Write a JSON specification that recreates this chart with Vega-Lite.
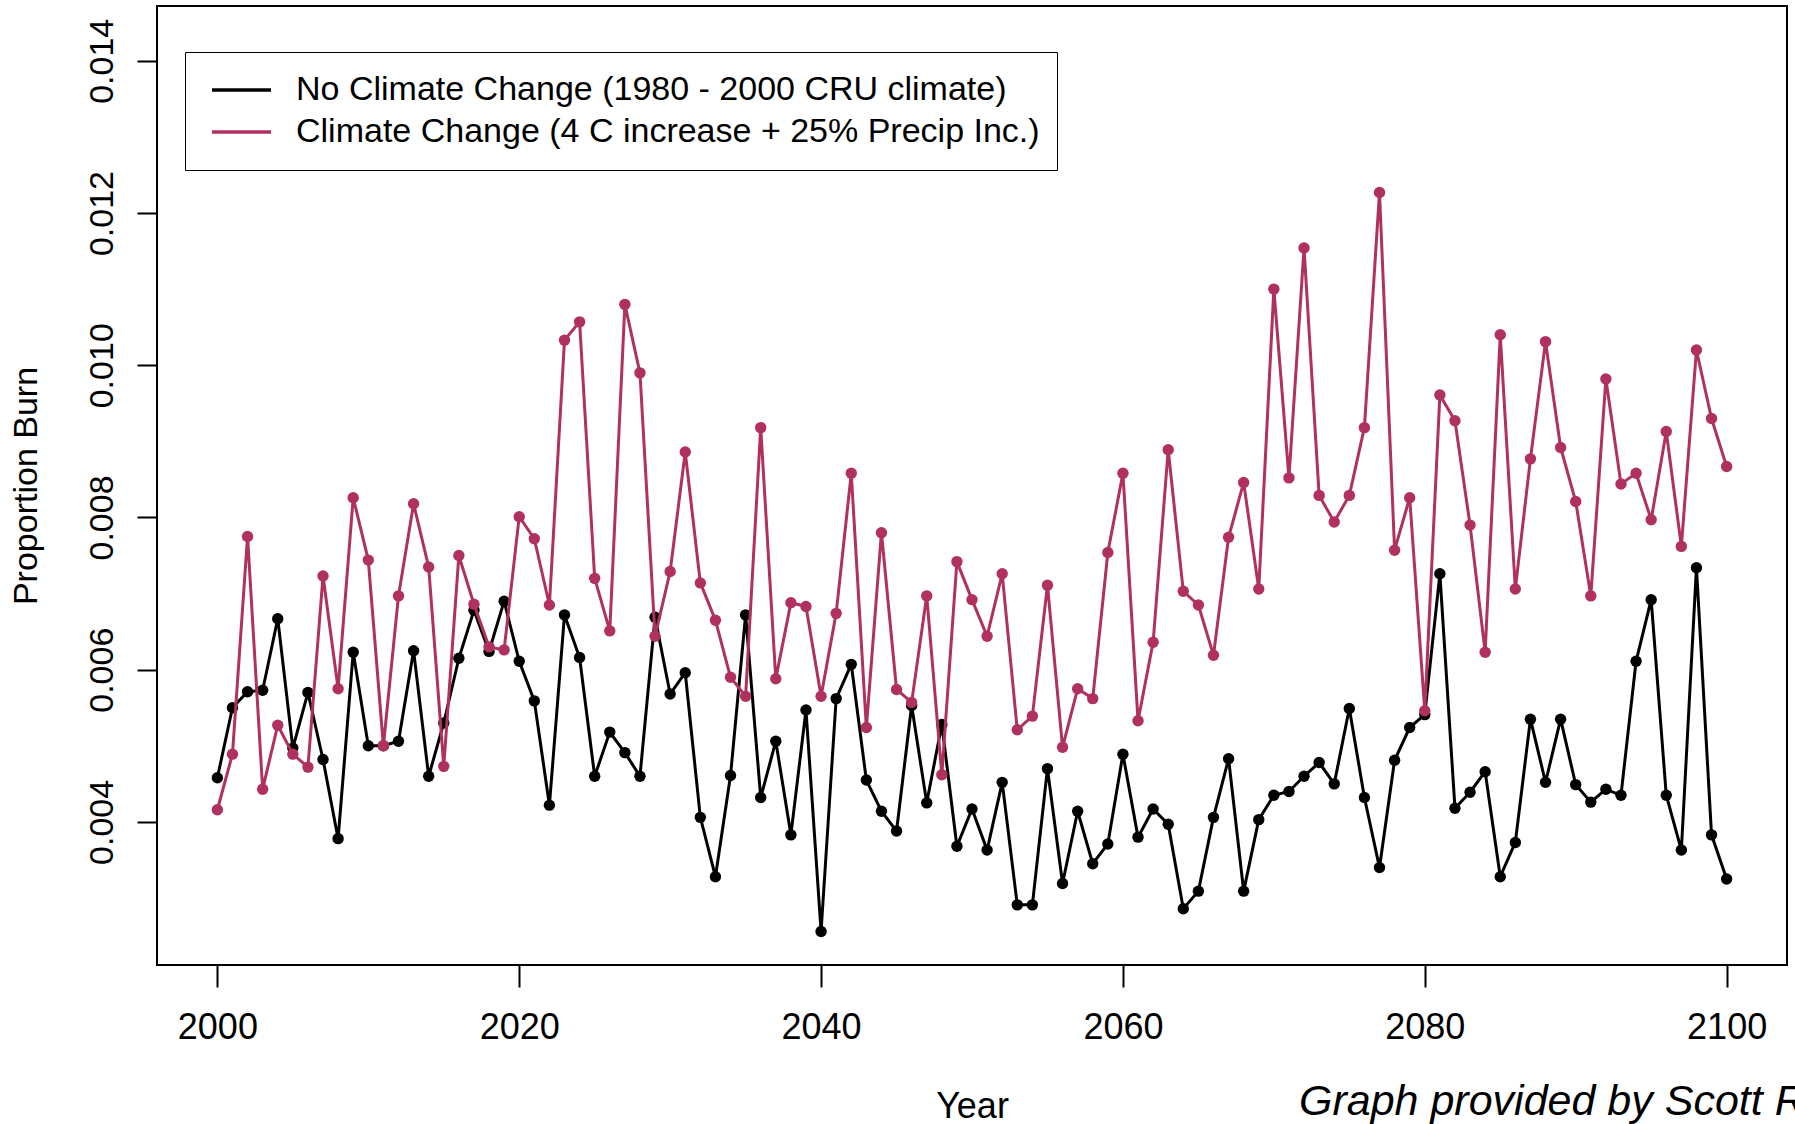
{
  "$schema": "https://vega.github.io/schema/vega-lite/v6.json",
  "width": 1630,
  "height": 959,
  "autosize": {"type": "none"},
  "padding": {"left": 157, "top": 6, "right": 8, "bottom": 159},
  "background": "white",
  "config": {
    "font": "Liberation Sans",
    "view": {"stroke": "black", "strokeWidth": 2},
    "axis": {"labelColor": "black", "titleColor": "black", "tickColor": "black", "labelFont": "Liberation Sans", "titleFont": "Liberation Sans"}
  },
  "title": {
    "text": "Graph provided by Scott Rupp",
    "orient": "bottom",
    "anchor": "start",
    "frame": "group",
    "dx": 1142,
    "offset": -43,
    "fontSize": 43,
    "fontStyle": "italic",
    "fontWeight": "normal",
    "color": "black",
    "font": "Liberation Sans"
  },
  "data": {
    "values": [
      {"year": 2000, "nocc": 0.00458, "cc": 0.00416},
      {"year": 2001, "nocc": 0.00550, "cc": 0.00489},
      {"year": 2002, "nocc": 0.00571, "cc": 0.00775},
      {"year": 2003, "nocc": 0.00573, "cc": 0.00443},
      {"year": 2004, "nocc": 0.00667, "cc": 0.00527},
      {"year": 2005, "nocc": 0.00497, "cc": 0.00489},
      {"year": 2006, "nocc": 0.00570, "cc": 0.00472},
      {"year": 2007, "nocc": 0.00482, "cc": 0.00723},
      {"year": 2008, "nocc": 0.00378, "cc": 0.00575},
      {"year": 2009, "nocc": 0.00623, "cc": 0.00826},
      {"year": 2010, "nocc": 0.00500, "cc": 0.00744},
      {"year": 2011, "nocc": 0.00500, "cc": 0.00500},
      {"year": 2012, "nocc": 0.00506, "cc": 0.00697},
      {"year": 2013, "nocc": 0.00625, "cc": 0.00818},
      {"year": 2014, "nocc": 0.00460, "cc": 0.00735},
      {"year": 2015, "nocc": 0.00530, "cc": 0.00473},
      {"year": 2016, "nocc": 0.00615, "cc": 0.00750},
      {"year": 2017, "nocc": 0.00678, "cc": 0.00686},
      {"year": 2018, "nocc": 0.00624, "cc": 0.00630},
      {"year": 2019, "nocc": 0.00690, "cc": 0.00626},
      {"year": 2020, "nocc": 0.00611, "cc": 0.00801},
      {"year": 2021, "nocc": 0.00559, "cc": 0.00772},
      {"year": 2022, "nocc": 0.00422, "cc": 0.00685},
      {"year": 2023, "nocc": 0.00672, "cc": 0.01033},
      {"year": 2024, "nocc": 0.00616, "cc": 0.01057},
      {"year": 2025, "nocc": 0.00460, "cc": 0.00720},
      {"year": 2026, "nocc": 0.00518, "cc": 0.00651},
      {"year": 2027, "nocc": 0.00491, "cc": 0.01080},
      {"year": 2028, "nocc": 0.00460, "cc": 0.00990},
      {"year": 2029, "nocc": 0.00669, "cc": 0.00644},
      {"year": 2030, "nocc": 0.00568, "cc": 0.00729},
      {"year": 2031, "nocc": 0.00596, "cc": 0.00886},
      {"year": 2032, "nocc": 0.00406, "cc": 0.00714},
      {"year": 2033, "nocc": 0.00328, "cc": 0.00665},
      {"year": 2034, "nocc": 0.00461, "cc": 0.00590},
      {"year": 2035, "nocc": 0.00672, "cc": 0.00565},
      {"year": 2036, "nocc": 0.00432, "cc": 0.00918},
      {"year": 2037, "nocc": 0.00506, "cc": 0.00588},
      {"year": 2038, "nocc": 0.00383, "cc": 0.00688},
      {"year": 2039, "nocc": 0.00547, "cc": 0.00683},
      {"year": 2040, "nocc": 0.00256, "cc": 0.00565},
      {"year": 2041, "nocc": 0.00562, "cc": 0.00674},
      {"year": 2042, "nocc": 0.00607, "cc": 0.00858},
      {"year": 2043, "nocc": 0.00455, "cc": 0.00524},
      {"year": 2044, "nocc": 0.00414, "cc": 0.00780},
      {"year": 2045, "nocc": 0.00388, "cc": 0.00574},
      {"year": 2046, "nocc": 0.00553, "cc": 0.00557},
      {"year": 2047, "nocc": 0.00425, "cc": 0.00697},
      {"year": 2048, "nocc": 0.00528, "cc": 0.00462},
      {"year": 2049, "nocc": 0.00368, "cc": 0.00742},
      {"year": 2050, "nocc": 0.00417, "cc": 0.00692},
      {"year": 2051, "nocc": 0.00363, "cc": 0.00644},
      {"year": 2052, "nocc": 0.00452, "cc": 0.00726},
      {"year": 2053, "nocc": 0.00291, "cc": 0.00521},
      {"year": 2054, "nocc": 0.00291, "cc": 0.00539},
      {"year": 2055, "nocc": 0.00470, "cc": 0.00711},
      {"year": 2056, "nocc": 0.00319, "cc": 0.00498},
      {"year": 2057, "nocc": 0.00414, "cc": 0.00575},
      {"year": 2058, "nocc": 0.00345, "cc": 0.00562},
      {"year": 2059, "nocc": 0.00371, "cc": 0.00754},
      {"year": 2060, "nocc": 0.00489, "cc": 0.00858},
      {"year": 2061, "nocc": 0.00380, "cc": 0.00533},
      {"year": 2062, "nocc": 0.00417, "cc": 0.00636},
      {"year": 2063, "nocc": 0.00397, "cc": 0.00889},
      {"year": 2064, "nocc": 0.00286, "cc": 0.00703},
      {"year": 2065, "nocc": 0.00309, "cc": 0.00685},
      {"year": 2066, "nocc": 0.00406, "cc": 0.00619},
      {"year": 2067, "nocc": 0.00483, "cc": 0.00774},
      {"year": 2068, "nocc": 0.00309, "cc": 0.00846},
      {"year": 2069, "nocc": 0.00403, "cc": 0.00706},
      {"year": 2070, "nocc": 0.00435, "cc": 0.01100},
      {"year": 2071, "nocc": 0.00440, "cc": 0.00852},
      {"year": 2072, "nocc": 0.00460, "cc": 0.01154},
      {"year": 2073, "nocc": 0.00478, "cc": 0.00829},
      {"year": 2074, "nocc": 0.00450, "cc": 0.00794},
      {"year": 2075, "nocc": 0.00549, "cc": 0.00829},
      {"year": 2076, "nocc": 0.00432, "cc": 0.00918},
      {"year": 2077, "nocc": 0.00340, "cc": 0.01227},
      {"year": 2078, "nocc": 0.00481, "cc": 0.00757},
      {"year": 2079, "nocc": 0.00524, "cc": 0.00826},
      {"year": 2080, "nocc": 0.00541, "cc": 0.00546},
      {"year": 2081, "nocc": 0.00726, "cc": 0.00961},
      {"year": 2082, "nocc": 0.00418, "cc": 0.00927},
      {"year": 2083, "nocc": 0.00439, "cc": 0.00790},
      {"year": 2084, "nocc": 0.00466, "cc": 0.00623},
      {"year": 2085, "nocc": 0.00328, "cc": 0.01040},
      {"year": 2086, "nocc": 0.00373, "cc": 0.00706},
      {"year": 2087, "nocc": 0.00535, "cc": 0.00877},
      {"year": 2088, "nocc": 0.00452, "cc": 0.01031},
      {"year": 2089, "nocc": 0.00535, "cc": 0.00892},
      {"year": 2090, "nocc": 0.00449, "cc": 0.00821},
      {"year": 2091, "nocc": 0.00426, "cc": 0.00697},
      {"year": 2092, "nocc": 0.00443, "cc": 0.00982},
      {"year": 2093, "nocc": 0.00435, "cc": 0.00844},
      {"year": 2094, "nocc": 0.00611, "cc": 0.00858},
      {"year": 2095, "nocc": 0.00692, "cc": 0.00797},
      {"year": 2096, "nocc": 0.00435, "cc": 0.00913},
      {"year": 2097, "nocc": 0.00363, "cc": 0.00762},
      {"year": 2098, "nocc": 0.00734, "cc": 0.01020},
      {"year": 2099, "nocc": 0.00383, "cc": 0.00930},
      {"year": 2100, "nocc": 0.00325, "cc": 0.00867}
    ]
  },
  "transform": [{"fold": ["nocc", "cc"], "as": ["series", "value"]}],
  "encoding": {
    "x": {
      "field": "year",
      "type": "quantitative",
      "scale": {"domain": [1996, 2104], "nice": false, "zero": false},
      "axis": {
        "values": [2000, 2020, 2040, 2060, 2080, 2100],
        "format": "d",
        "domain": false,
        "grid": false,
        "tickSize": 22,
        "tickWidth": 2,
        "labelFontSize": 36,
        "labelPadding": 23,
        "title": "Year",
        "titleFontSize": 36,
        "titleFontWeight": "normal",
        "titlePadding": 44
      }
    },
    "y": {
      "field": "value",
      "type": "quantitative",
      "scale": {"domain": [0.00212, 0.01472], "nice": false, "zero": false},
      "axis": {
        "values": [0.004, 0.006, 0.008, 0.01, 0.012, 0.014],
        "format": ".3f",
        "domain": false,
        "grid": false,
        "tickSize": 20,
        "tickWidth": 2,
        "labelFontSize": 34,
        "labelAngle": 270,
        "labelAlign": "center",
        "labelBaseline": "bottom",
        "labelPadding": 18,
        "title": "Proportion Burn",
        "titleFontSize": 34,
        "titleFontWeight": "normal",
        "titlePadding": 42
      }
    },
    "color": {
      "field": "series",
      "type": "nominal",
      "scale": {"domain": ["nocc", "cc"], "range": ["#000000", "#B03060"]},
      "legend": {
        "orient": "none",
        "legendX": 28,
        "legendY": 46,
        "title": null,
        "symbolType": "stroke",
        "symbolSize": 3481,
        "symbolStrokeWidth": 3.5,
        "symbolOffset": 8,
        "labelFontSize": 34,
        "labelColor": "black",
        "labelOffset": 23,
        "labelLimit": 0,
        "padding": 17,
        "strokeColor": "black",
        "fillColor": "white",
        "clipHeight": 42,
        "rowPadding": 0,
        "labelExpr": "datum.label == 'nocc' ? 'No Climate Change (1980 - 2000 CRU climate)' : 'Climate Change (4 C increase + 25% Precip Inc.)'"
      }
    }
  },
  "layer": [
    {"transform": [{"filter": "datum.series == 'nocc'"}], "mark": {"type": "line", "strokeWidth": 3}},
    {"transform": [{"filter": "datum.series == 'nocc'"}], "mark": {"type": "point", "filled": true, "size": 130, "opacity": 1}},
    {"transform": [{"filter": "datum.series == 'cc'"}], "mark": {"type": "line", "strokeWidth": 3}},
    {"transform": [{"filter": "datum.series == 'cc'"}], "mark": {"type": "point", "filled": true, "size": 130, "opacity": 1}}
  ]
}
